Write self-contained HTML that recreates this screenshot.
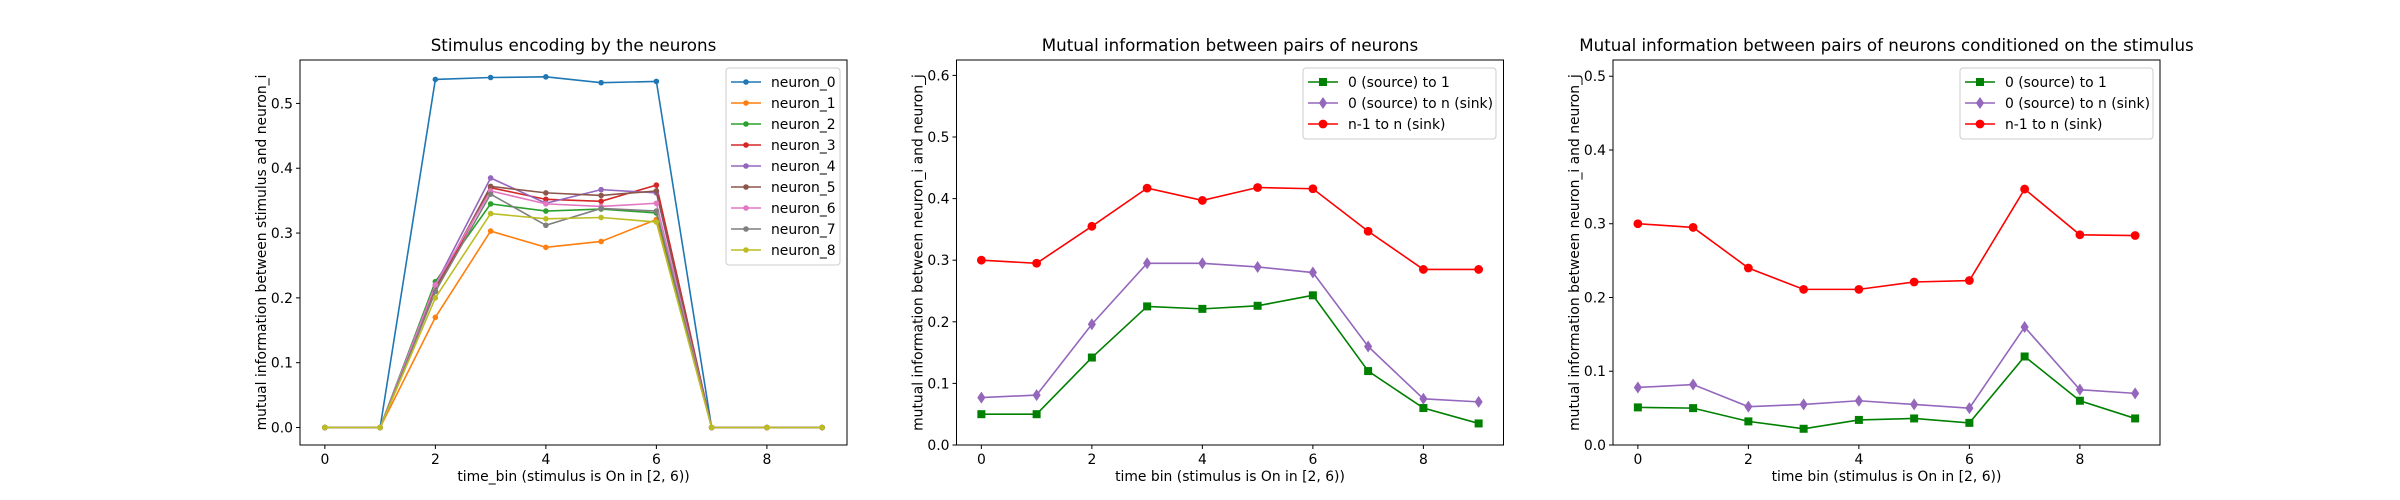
<!DOCTYPE html>
<html><head><meta charset="utf-8"><style>
html,body{margin:0;padding:0;background:#fff;}
svg{display:block;font-family:"DejaVu Sans","Liberation Sans",sans-serif;}
</style></head><body>
<svg id="fig" width="2400" height="500" viewBox="0 0 2400 500" xmlns="http://www.w3.org/2000/svg"></svg>
<script>
const timeBins = [0,1,2,3,4,5,6,7,8,9];
const neuronNames = ["neuron_0","neuron_1","neuron_2","neuron_3","neuron_4","neuron_5","neuron_6","neuron_7","neuron_8"];
const neuronColors = ["#1f77b4","#ff7f0e","#2ca02c","#d62728","#9467bd","#8c564b","#e377c2","#7f7f7f","#bcbd22"];
const n0 = [0,0,0.537,0.540,0.541,0.532,0.534,0,0,0];
const n1 = [0,0,0.170,0.303,0.278,0.287,0.321,0,0,0];
const n2 = [0,0,0.225,0.345,0.334,0.337,0.331,0,0,0];
const n3 = [0,0,0.210,0.370,0.352,0.349,0.374,0,0,0];
const n4 = [0,0,0.220,0.385,0.346,0.367,0.362,0,0,0];
const n5 = [0,0,0.215,0.372,0.362,0.358,0.365,0,0,0];
const n6 = [0,0,0.220,0.365,0.345,0.341,0.346,0,0,0];
const n7 = [0,0,0.210,0.360,0.312,0.338,0.334,0,0,0];
const n8 = [0,0,0.200,0.330,0.322,0.324,0.317,0,0,0];
const p2Green = [0.050,0.050,0.142,0.225,0.221,0.226,0.243,0.120,0.060,0.035];
const p2Purple = [0.077,0.081,0.196,0.295,0.295,0.289,0.280,0.160,0.075,0.070];
const p2Red = [0.300,0.295,0.355,0.417,0.397,0.418,0.416,0.347,0.285,0.285];
const p3Green = [0.051,0.050,0.032,0.022,0.034,0.036,0.030,0.120,0.060,0.036];
const p3Purple = [0.078,0.082,0.052,0.055,0.060,0.055,0.050,0.160,0.075,0.070];
const p3Red = [0.300,0.295,0.240,0.211,0.211,0.221,0.223,0.347,0.285,0.284];
const pairLabels = ["0 (source) to 1","0 (source) to n (sink)","n-1 to n (sink)"];
const xTicks = [0,2,4,6,8];
const yTicks1 = [0,0.1,0.2,0.3,0.4,0.5];
const yTicks2 = [0,0.1,0.2,0.3,0.4,0.5,0.6];
const yTicks3 = [0,0.1,0.2,0.3,0.4,0.5];

const NS="http://www.w3.org/2000/svg";
const svg=document.getElementById('fig');
function el(tag,attrs,parent,text){const e=document.createElementNS(NS,tag);for(const k in attrs)e.setAttribute(k,attrs[k]);if(text!==undefined)e.textContent=text;(parent||svg).appendChild(e);return e;}
const T=60,B=445;
function makeAxes(left,ymin,ymax,yTicks,title,xlabel,ylabel,name){
  const right=left+547;
  const g=el('g',{});
  
  
  const xs=v=>left+(v+0.45)/9.9*547;
  const ys=v=>B-(v-ymin)/(ymax-ymin)*(B-T);
  xTicks.forEach(t=>{const x=xs(t);el('line',{x1:x,x2:x,y1:B,y2:B+4,stroke:'#000','stroke-width':1},g);
    const tl=el('text',{x:x,y:B+19,'font-size':13.9,'text-anchor':'middle'},g,String(t));
    });
  yTicks.forEach(t=>{const y=ys(t);el('line',{x1:left-4,x2:left,y1:y,y2:y,stroke:'#000','stroke-width':1},g);
    const tl=el('text',{x:left-7,y:y+5,'font-size':13.9,'text-anchor':'end'},g,t.toFixed(1));
    });
  const tt=el('text',{x:(left+right)/2,y:T-9,'font-size':16.7,'text-anchor':'middle'},g,title);
  
  const xl=el('text',{x:(left+right)/2,y:B+36,'font-size':13.9,'text-anchor':'middle'},g,xlabel);
  
  const yl=el('text',{x:0,y:0,'font-size':13.9,'text-anchor':'middle',transform:`translate(${left-34},${(T+B)/2}) rotate(-90)`},g,ylabel);
  
  return {g,xs,ys,left,right};
}
function marker(g,type,x,y,c,s){
  if(type==='dot')return el('circle',{cx:x,cy:y,r:s,fill:c},g);
  if(type==='circle')return el('circle',{cx:x,cy:y,r:s,fill:c},g);
  if(type==='square')return el('rect',{x:x-s,y:y-s,width:2*s,height:2*s,fill:c},g);
  if(type==='diamond')return el('polygon',{points:`${x},${y-s*1.25} ${x+s*0.85},${y} ${x},${y+s*1.25} ${x-s*0.85},${y}`,fill:c},g);
}
function series(ax,vals,c,type,s,name){
  const g=el('g',{},ax.g);
  
  
  const pts=vals.map((v,i)=>ax.xs(timeBins[i])+','+ax.ys(v)).join(' ');
  el('polyline',{points:pts,fill:'none',stroke:c,'stroke-width':1.6},g);
  vals.forEach((v,i)=>marker(g,type,ax.xs(timeBins[i]),ax.ys(v),c,s));
}
function frame(ax){el('rect',{x:ax.left,y:T,width:547,height:B-T,fill:'none',stroke:'#000','stroke-width':1},ax.g);}
function legend(ax,x,y,w,items,rowH){
  const g=el('g',{},ax.g);
  
  
  el('rect',{x:x,y:y,width:w,height:items.length*rowH+8,rx:3,fill:'#fff','fill-opacity':0.8,stroke:'#ccc'},g);
  items.forEach((it,i)=>{const cy=y+14+i*rowH;
    const eg=el('g',{},g);
    
    
    el('line',{x1:x+5,x2:x+35,y1:cy,y2:cy,stroke:it.c,'stroke-width':1.6},eg);
    marker(eg,it.t,x+20,cy,it.c,it.s);
    el('text',{x:x+45,y:cy+5,'font-size':13.9},eg,it.l);});
}
// Panel 1
const a1=makeAxes(300,-0.027,0.567,yTicks1,"Stimulus encoding by the neurons","time_bin (stimulus is On in [2, 6))","mutual information between stimulus and neuron_i","panel-stimulus-encoding");
const neuronData=[n0,n1,n2,n3,n4,n5,n6,n7,n8];
neuronData.forEach((d,i)=>series(a1,d,neuronColors[i],'dot',2.8,'line-'+neuronNames[i]));
frame(a1);
legend(a1,726,68,114,neuronNames.map((n,i)=>({l:n,c:neuronColors[i],t:'dot',s:2.8})),21);
// Panel 2
const pc=["#008000","#9467bd","#ff0000"],pt=['square','diamond','circle'];
const ms=[4,4.8,4.4];
const a2=makeAxes(956.5,0,0.625,yTicks2,"Mutual information between pairs of neurons","time bin (stimulus is On in [2, 6))","mutual information between neuron_i and neuron_j","panel-pairwise-mi");
series(a2,p2Green,pc[0],'square',ms[0],'line-0-to-1');
series(a2,p2Purple,pc[1],'diamond',ms[1],'line-0-to-n');
series(a2,p2Red,pc[2],'circle',ms[2],'line-n1-to-n');
frame(a2);
legend(a2,1303,68,193,pairLabels.map((l,i)=>({l:l,c:pc[i],t:pt[i],s:ms[i]})),21);
// Panel 3
const a3=makeAxes(1613,0,0.522,yTicks3,"Mutual information between pairs of neurons conditioned on the stimulus","time bin (stimulus is On in [2, 6))","mutual information between neuron_i and neuron_j","panel-conditional-mi");
series(a3,p3Green,pc[0],'square',ms[0],'line-0-to-1');
series(a3,p3Purple,pc[1],'diamond',ms[1],'line-0-to-n');
series(a3,p3Red,pc[2],'circle',ms[2],'line-n1-to-n');
frame(a3);
legend(a3,1960,68,193,pairLabels.map((l,i)=>({l:l,c:pc[i],t:pt[i],s:ms[i]})),21);
</script>
</body></html>
